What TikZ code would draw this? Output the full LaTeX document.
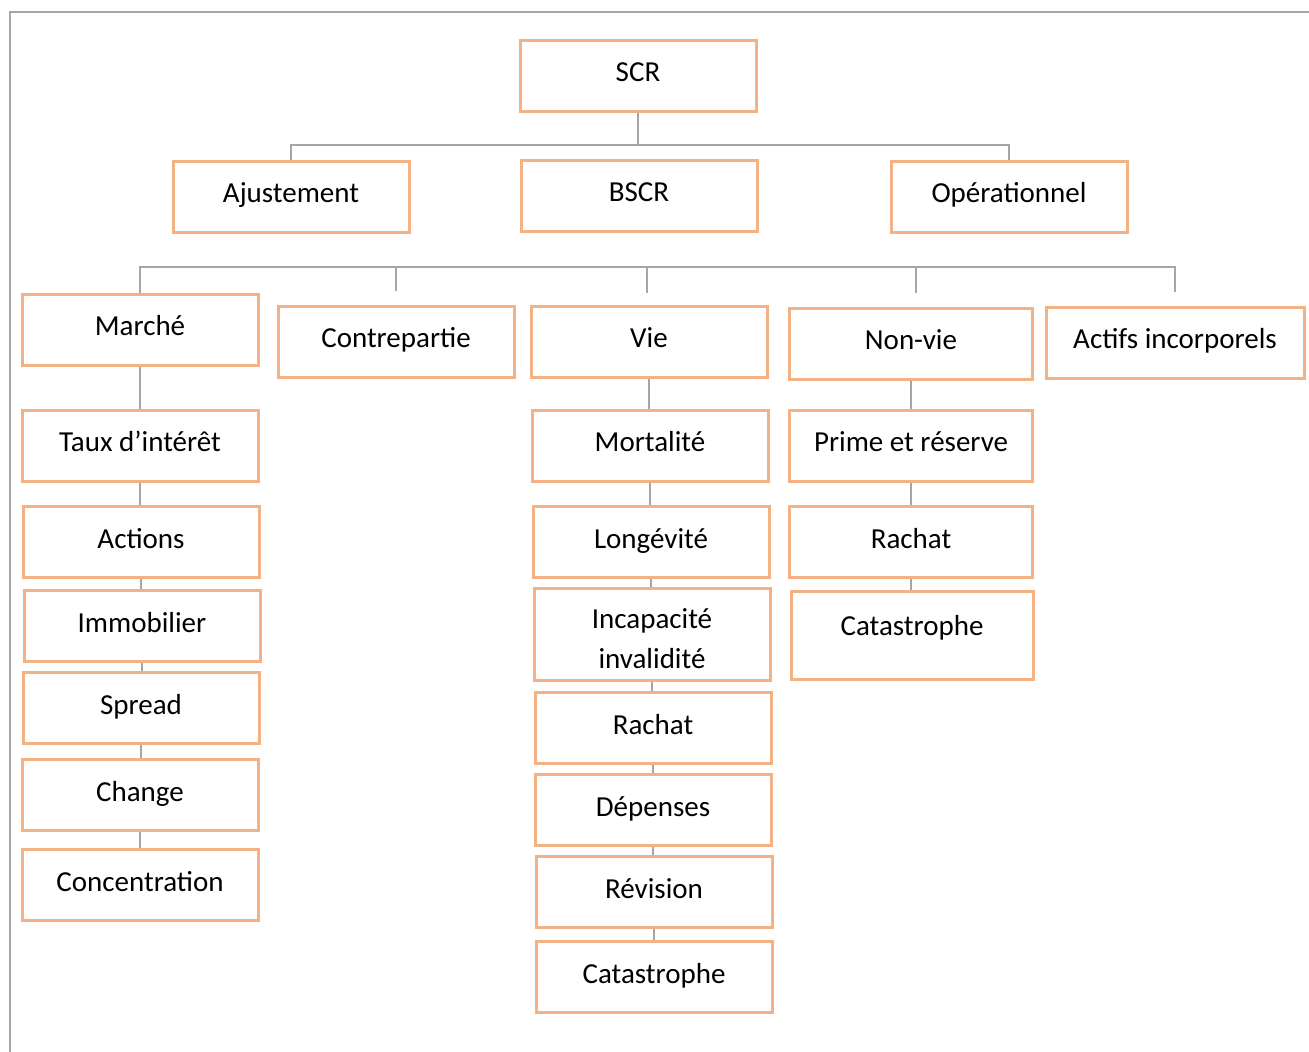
\documentclass[tikz,border=0pt]{standalone}
\usepackage{fontspec}
\setmainfont{Carlito}
\usetikzlibrary{positioning,calc}
\definecolor{boxorange}{HTML}{F4B183}
\definecolor{linkgray}{HTML}{A6A6A6}

\begin{document}
\begin{tikzpicture}[x=0.5pt,y=-0.5pt,
 box/.style={draw=boxorange,line width=1.5pt,fill=white,minimum width=118pt,minimum height=35.5pt,
  inner sep=2pt,align=center,font=\fontsize{14.5}{20}\selectfont,text height=10pt,text depth=4pt},
 link/.style={draw=linkgray,line width=1.4pt}]
\useasboundingbox (0,0) rectangle (1309,1052);
% frame
\draw[linkgray,line width=1.2pt] (10,1052) -- (10,12) -- (1309,12);
% top levels
\node[box](scr)at(638,76){SCR};
\node[box](ajust)at(291,197){Ajustement};
\node[box](bscr)at(639,196){BSCR};
\node[box](oper)at(1009,197){Opérationnel};
\coordinate(bus1)at(639,145);
\draw[link](scr.south)--(scr.south|-bus1);
\draw[link](ajust.north)|-(bus1)-|(oper.north);
% modules
\node[box](marche)at(140,330){Marché};
\node[box](contre)at(396,342){Contrepartie};
\node[box](vie)at(649,342){Vie};
\node[box,minimum width=121.5pt](nonvie)at(911,344){Non-vie};
\node[box,minimum width=129pt](actifs)at(1175,343){Actifs incorporels};
\coordinate(bus2)at(647,267);
\draw[link](marche.north)|-(bus2)-|([yshift=7pt]actifs.north);
\draw[link]([yshift=7pt]contre.north)--(contre.north|-bus2);
\draw[link]([yshift=6pt]vie.north-|bus2)--(bus2);
\draw[link]([xshift=2.5pt,yshift=7pt]nonvie.north)--([xshift=2.5pt]nonvie.north|-bus2);
% Marché
\node[box](taux)at(140,446){Taux d’intérêt};
\node[box](actions)at(141,542){Actions};
\node[box](immo)at(142,626){Immobilier};
\node[box](spread)at(141,708){Spread};
\node[box](change)at(140,795){Change};
\node[box](conc)at(140,885){Concentration};
% Vie
\node[box](morta)at(650,446){Mortalité};
\node[box](longev)at(651,542){Longévité};
\node[box,minimum height=46pt,text height=38pt,text depth=4pt](incap)at(652,634){Incapacité\\invalidité};
\node[box](rachatv)at(653,728){Rachat};
\node[box](depenses)at(653,810){Dépenses};
\node[box](revision)at(654,892){Révision};
\node[box](catav)at(654,977){Catastrophe};
% Non-vie
\node[box,minimum width=121.5pt](prime)at(911,446){Prime et réserve};
\node[box,minimum width=121.5pt](rachatnv)at(911,542){Rachat};
\node[box,minimum width=121pt,minimum height=44pt,text depth=10pt](catanv)at(912,635){Catastrophe};
\foreach \a/\b in {marche/taux,taux/actions,actions/immo,immo/spread,spread/change,change/conc,
 vie/morta,morta/longev,longev/incap,incap/rachatv,rachatv/depenses,depenses/revision,revision/catav,
 nonvie/prime,prime/rachatnv,rachatnv/catanv}
 \draw[link](\a.south)--(\a.south|-\b.north);
\end{tikzpicture}
\end{document}
